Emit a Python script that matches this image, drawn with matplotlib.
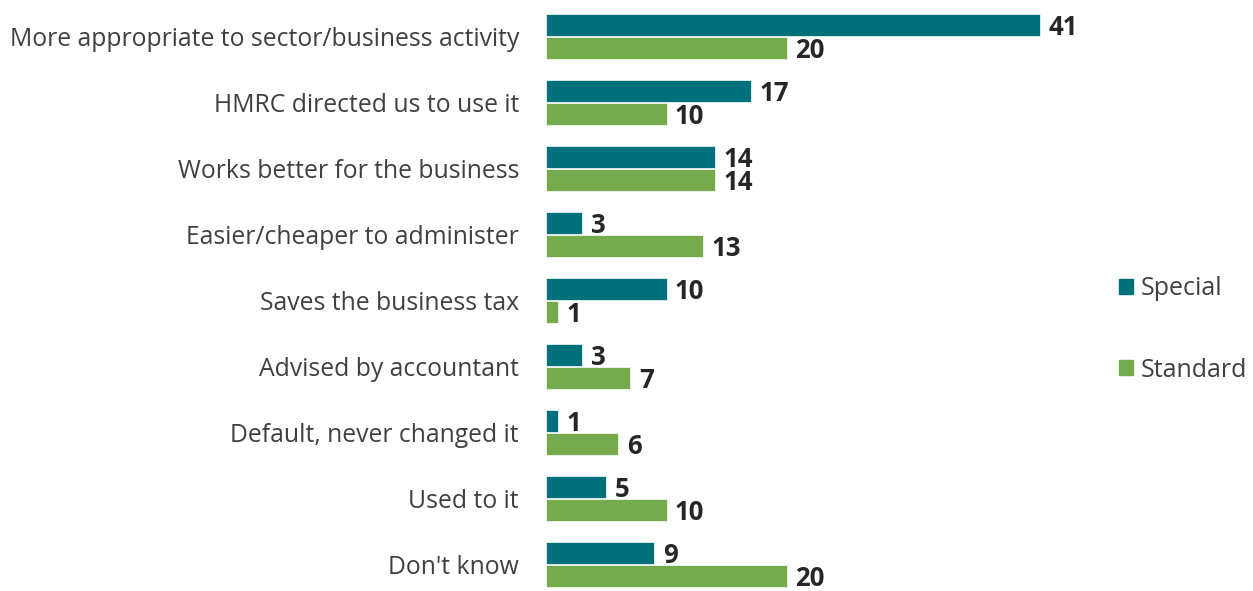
import numpy as np
import matplotlib
matplotlib.use('agg')
import matplotlib.pyplot as plt
from matplotlib.patches import Patch

razones = ['More appropriate to sector/business activity', 'HMRC directed us to use it',
           'Works better for the business', 'Easier/cheaper to administer',
           'Saves the business tax', 'Advised by accountant',
           'Default, never changed it', 'Used to it', "Don't know"]
special = [41, 17, 14, 3, 10, 3, 1, 5, 9]
standard = [20, 10, 14, 13, 1, 7, 6, 10, 20]

col_special = '#00717b'
col_standard = '#76ab4d'

plt.rcParams['font.family'] = ['Open Sans', 'DejaVu Sans']

fig = plt.figure(figsize=(12.53, 5.91), dpi=100)
ax = fig.add_axes([546 / 1253, 0, 700 / 1253, 1])

pitch = 66.0
y = np.arange(len(razones))
h = 22 / pitch
off = 11.5 / pitch

ax.barh(y - off, special, height=h, color=col_special, edgecolor='white', linewidth=0.5)
ax.barh(y + off, standard, height=h, color=col_standard, edgecolor='white', linewidth=0.5)

# etiquetas de valor
for i in range(len(razones)):
    ax.text(special[i] + 0.7, y[i] - off + 0.05, str(special[i]), va='center', ha='left',
            fontsize=18.5, fontweight='bold', color='#262626')
    ax.text(standard[i] + 0.7, y[i] + off + 0.05, str(standard[i]), va='center', ha='left',
            fontsize=18.5, fontweight='bold', color='#262626')

ax.set_xlim(0, 700 / 12.05)
ax.set_ylim((591 - 36) / pitch, -36 / pitch)
ax.set_yticks(y)
ax.set_yticklabels(razones, fontsize=17.8, color='#404040')
ax.tick_params(axis='y', length=0, pad=19.4)
ax.set_xticks([])
for s in ax.spines.values():
    s.set_visible(False)

handles = [Patch(color=col_special), Patch(color=col_standard)]
fig.legend(handles, ['Special', 'Standard'], loc='center left',
           bbox_to_anchor=(1119 / 1253, 1 - 329.5 / 591), borderaxespad=0, borderpad=0,
           frameon=False, fontsize=18, labelcolor='#404040', handlelength=0.56, handleheight=0.56,
           handletextpad=0.3, labelspacing=2.25)

plt.savefig('out.png', dpi=100)
